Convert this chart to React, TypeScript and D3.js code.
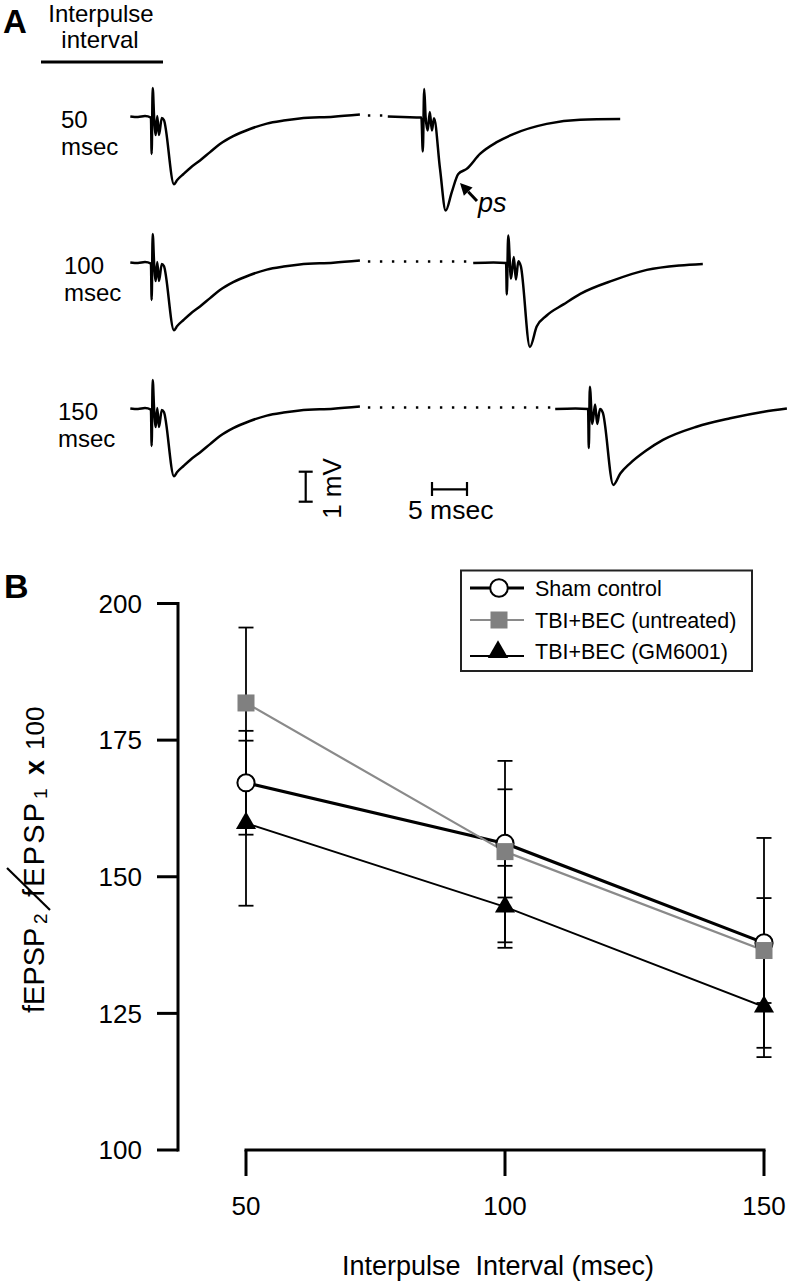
import * as d3 from "d3";

// ---- panel B data ----
const intervals = [50, 100, 150];
const shamMean = [167.2, 156.1, 137.9];
const shamErr = [9.5, 9.9, 19.2];
const untreatedMean = [181.8, 154.6, 136.5];
const untreatedErr = [13.8, 16.6, 9.6];
const gmMean = [159.8, 144.5, 126.2];
const gmErr = [15.1, 7.5, 9.2];
const yTicks = [100, 125, 150, 175, 200];
const legendLabels = ["Sham control", "TBI+BEC (untreated)", "TBI+BEC (GM6001)"];

// ---- panel A traces: [msec from stimulus, mV from baseline] ----
const firstResponse: [number, number][] = [
  [-3.1, 0.02], [-2.0, 0.0], [-1.0, 0.03], [-0.15, -0.02], [-0.05, -1.23], [0.1, 0.97],
  [0.3, 0.0], [0.55, -0.6], [0.75, 0.03], [1.0, -0.6], [1.4, -0.03], [1.7, -0.1],
  [3.14, -2.24], [3.6, -2.1], [4.5, -1.9], [5.5, -1.69], [6.86, -1.45], [8.3, -1.17],
  [9.71, -0.9], [11.6, -0.64], [14.0, -0.4], [16.4, -0.22], [18.8, -0.12], [21.1, -0.05],
  [25.9, 0.01], [29.7, 0.08],
];
const secondResponse50: [number, number][] = [
  [-5.1, 0.02], [-3.0, 0.0], [-0.3, -0.02], [-0.1, -1.15], [0.1, 0.93], [0.3, 0.0],
  [0.6, -0.45], [0.9, 0.17], [1.2, -0.45], [1.5, -0.04], [2.36, -1.73], [3.17, -3.12],
  [4.03, -2.51], [4.97, -1.9], [6.17, -1.73], [8.07, -1.23], [10.46, -0.84], [12.83, -0.57],
  [17.6, -0.23], [22.4, -0.09], [28.1, -0.07],
];
const secondResponse100: [number, number][] = [
  [-4.9, 0.0], [-2.0, 0.02], [-0.2, 0.0], [-0.1, -1.05], [0.1, 0.92], [0.5, -0.52],
  [0.9, 0.2], [1.2, -0.55], [1.55, 0.06], [1.9, -0.1], [3.2, -2.8], [4.17, -2.12],
  [5.6, -1.75], [8.0, -1.38], [10.4, -1.03], [15.1, -0.58], [19.9, -0.23], [24.6, -0.08], [27.9, -0.03],
];
const secondResponse150: [number, number][] = [
  [-4.9, 0.0], [-2.0, 0.02], [-0.2, 0.0], [-0.1, -1.3], [0.05, 0.74], [0.4, -0.5],
  [0.8, 0.15], [1.1, -0.5], [1.5, 0.0], [1.9, -0.12], [3.4, -2.53], [4.4, -2.15],
  [5.8, -1.81], [8.0, -1.4], [10.5, -1.03], [15.3, -0.59], [20.1, -0.31], [24.9, -0.09], [28.2, 0.02],
];
const rowLabels = ["50", "100", "150"];
const secondResponses = [secondResponse50, secondResponse100, secondResponse150];
const scaleBarMv = 1;
const scaleBarMs = 5;

const FONT = "'Liberation Sans', Arial, Helvetica, sans-serif";

// layout for traces
const rowBase = [117, 263, 409];
const stim1X = 152;
const stim2X = [423.5, 507.5, 589.5];
const msScale = (stimX: number) => d3.scaleLinear().domain([0, 5]).range([stimX, stimX + 35]);
const mvScale = (baseY: number) => d3.scaleLinear().domain([0, 1]).range([baseY, baseY - 30]);

function Trace({ data, stimX, baseY }: { data: [number, number][]; stimX: number; baseY: number }) {
  const x = msScale(stimX);
  const y = mvScale(baseY);
  const line = d3.line<[number, number]>().x(d => x(d[0])).y(d => y(d[1])).curve(d3.curveMonotoneX);
  return <path d={line(data) || ""} fill="none" stroke="#000" strokeWidth={2.5} strokeLinejoin="round" />;
}

function PanelA() {
  // ps arrow
  const tip = [460, 183], tail = [477, 201];
  const len = Math.hypot(tail[0] - tip[0], tail[1] - tip[1]);
  const u = [(tip[0] - tail[0]) / len, (tip[1] - tail[1]) / len];
  const p = [-u[1], u[0]];
  const bc = [tip[0] - 12 * u[0], tip[1] - 12 * u[1]];
  const head = [tip, [bc[0] + 6 * p[0], bc[1] + 6 * p[1]], [bc[0] - 6 * p[0], bc[1] - 6 * p[1]]];

  const sx = msScale(432);
  const sy = mvScale(501.7);
  const barX = 305.7;
  return (
    <g fontFamily={FONT}>
      <text x={3} y={33} fontSize={33} fontWeight="bold">A</text>
      <text x={101} y={22} fontSize={24} textAnchor="middle">Interpulse</text>
      <text x={100} y={48} fontSize={24} textAnchor="middle">interval</text>
      <line x1={41} x2={163} y1={62} y2={62} stroke="#000" strokeWidth={3.2} />

      {rowLabels.map((lab, i) => {
        const lx = [61, 64, 58][i];
        return (
          <g key={lab}>
            <text x={lx} y={rowBase[i] + 11} fontSize={24}>{lab}</text>
            <text x={lx} y={rowBase[i] + 38} fontSize={24}>msec</text>
          </g>
        );
      })}

      {rowLabels.map((lab, i) => {
        const x1 = msScale(stim1X);
        const x2 = msScale(stim2X[i]);
        const endX = x1(firstResponse[firstResponse.length - 1][0]);
        const startX = x2(secondResponses[i][0][0]);
        return (
          <g key={"t" + lab}>
            <Trace data={firstResponse} stimX={stim1X} baseY={rowBase[i]} />
            <line x1={endX + 8} x2={startX - 3} y1={rowBase[i] - 1.5} y2={rowBase[i] - 1.5}
              stroke="#000" strokeWidth={2.4} strokeDasharray="2.4 9.6" />
            <Trace data={secondResponses[i]} stimX={stim2X[i]} baseY={rowBase[i]} />
          </g>
        );
      })}

      <line x1={tail[0]} y1={tail[1]} x2={bc[0]} y2={bc[1]} stroke="#000" strokeWidth={3} />
      <polygon points={head.map(d => d.join(",")).join(" ")} fill="#000" />
      <text x={478} y={212} fontSize={27} fontStyle="italic">ps</text>

      {/* scale bars */}
      <g stroke="#000" strokeWidth={2.2}>
        <line x1={barX} x2={barX} y1={sy(0)} y2={sy(scaleBarMv)} />
        <line x1={barX - 7} x2={barX + 7} y1={sy(0)} y2={sy(0)} />
        <line x1={barX - 7} x2={barX + 7} y1={sy(scaleBarMv)} y2={sy(scaleBarMv)} />
        <line x1={sx(0)} x2={sx(scaleBarMs)} y1={489.3} y2={489.3} />
        <line x1={sx(0)} x2={sx(0)} y1={482} y2={496} />
        <line x1={sx(scaleBarMs)} x2={sx(scaleBarMs)} y1={482} y2={496} />
      </g>
      <text transform="translate(341,488.5) rotate(-90)" fontSize={26} textAnchor="middle">1 mV</text>
      <text x={408} y={519} fontSize={26.5}>5 msec</text>
    </g>
  );
}

function PanelB() {
  const x = d3.scaleLinear().domain([50, 150]).range([246, 764]);
  const y = d3.scaleLinear().domain([100, 200]).range([1150, 603.5]);
  const line = d3.line<number>().x((_, i) => x(intervals[i])).y(d => y(d));
  const tri = d3.symbol(d3.symbolTriangle, 175)() || "";
  const triSmall = d3.symbol(d3.symbolTriangle, 180)() || "";
  const series = [
    { mean: shamMean, err: shamErr },
    { mean: untreatedMean, err: untreatedErr },
    { mean: gmMean, err: gmErr },
  ];
  const cap = 7.5;
  return (
    <g fontFamily={FONT}>
      <text x={4} y={598} fontSize={34} fontWeight="bold">B</text>

      {/* y axis */}
      <line x1={178} x2={178} y1={y(200) - 1.5} y2={y(100) + 1.5} stroke="#000" strokeWidth={3} />
      {yTicks.map(t => (
        <g key={t}>
          <line x1={157} x2={178} y1={y(t)} y2={y(t)} stroke="#000" strokeWidth={3} />
          <text x={142} y={y(t)} dy="0.36em" fontSize={26} textAnchor="end">{t}</text>
        </g>
      ))}
      {/* x axis */}
      <line x1={x(50) - 1.5} x2={x(150) + 1.5} y1={1150} y2={1150} stroke="#000" strokeWidth={3} />
      {intervals.map(t => (
        <g key={t}>
          <line x1={x(t)} x2={x(t)} y1={1150} y2={1176} stroke="#000" strokeWidth={3} />
          <text x={x(t)} y={1215} fontSize={26} textAnchor="middle">{t}</text>
        </g>
      ))}
      <text x={498} y={1275} fontSize={27} textAnchor="middle" xmlSpace="preserve">Interpulse  Interval (msec)</text>

      {/* y label */}
      <g transform="translate(44,1013) rotate(-90)">
        <text x={0} y={0} fontSize={29}>fEPSP</text>
        <text x={89} y={3} fontSize={19}>2</text>
        <text x={116} y={0} fontSize={29} textLength={94} lengthAdjust="spacing">fEPSP</text>
        <text x={214} y={3} fontSize={19}>1</text>
        <text x={238} y={0} fontSize={27} fontWeight="bold">x</text>
        <text x={263} y={0} fontSize={26}>100</text>
      </g>
      <line x1={50} y1={910} x2={7} y2={868} stroke="#000" strokeWidth={2.2} />

      {/* error bars */}
      {series.map((s, si) => (
        <g key={"e" + si} stroke="#000" strokeWidth={1.8}>
          {s.mean.map((m, i) => (
            <g key={i}>
              <line x1={x(intervals[i])} x2={x(intervals[i])} y1={y(m - s.err[i])} y2={y(m + s.err[i])} />
              <line x1={x(intervals[i]) - cap} x2={x(intervals[i]) + cap} y1={y(m + s.err[i])} y2={y(m + s.err[i])} />
              <line x1={x(intervals[i]) - cap} x2={x(intervals[i]) + cap} y1={y(m - s.err[i])} y2={y(m - s.err[i])} />
            </g>
          ))}
        </g>
      ))}

      {/* lines */}
      <path d={line(shamMean) || ""} fill="none" stroke="#000" strokeWidth={3.2} />
      <path d={line(untreatedMean) || ""} fill="none" stroke="#8a8a8a" strokeWidth={2.2} />
      <path d={line(gmMean) || ""} fill="none" stroke="#000" strokeWidth={1.9} />

      {/* markers */}
      {shamMean.map((m, i) => (
        <circle key={"c" + i} cx={x(intervals[i])} cy={y(m)} r={8.6} fill="#fff" stroke="#000" strokeWidth={2} />
      ))}
      {untreatedMean.map((m, i) => (
        <rect key={"s" + i} x={x(intervals[i]) - 8.5} y={y(m) - 8.5} width={17} height={17} fill="#808080" />
      ))}
      {gmMean.map((m, i) => (
        <path key={"t" + i} d={tri} transform={`translate(${x(intervals[i])},${y(m)})`} fill="#000" />
      ))}

      {/* legend */}
      <rect x={461} y={570.5} width={291} height={100.5} fill="#fff" stroke="#222" strokeWidth={2} />
      {legendLabels.map((lab, i) => {
        const ly = [588, 620, 651][i];
        return (
          <g key={lab}>
            {i === 0 && <>
              <line x1={470} x2={524} y1={ly} y2={ly} stroke="#000" strokeWidth={3.2} />
              <circle cx={499} cy={ly} r={8.8} fill="#fff" stroke="#000" strokeWidth={2} />
            </>}
            {i === 1 && <>
              <line x1={470} x2={524} y1={ly} y2={ly} stroke="#8a8a8a" strokeWidth={2.2} />
              <rect x={490.5} y={ly - 8.5} width={17} height={17} fill="#808080" />
            </>}
            {i === 2 && <>
              <line x1={470} x2={524} y1={ly + 5} y2={ly + 5} stroke="#000" strokeWidth={1.9} />
              <path d={triSmall} transform={`translate(498,${ly + 1})`} fill="#000" />
            </>}
            <text x={535} y={ly} dy="0.36em" fontSize={21.5}>{lab}</text>
          </g>
        );
      })}
    </g>
  );
}

export default function App() {
  return (
    <svg width={792} height={1282} style={{ position: "absolute", left: 0, top: 0, background: "#fff" }}>
      <rect width={792} height={1282} fill="#fff" />
      <PanelA />
      <PanelB />
    </svg>
  );
}
